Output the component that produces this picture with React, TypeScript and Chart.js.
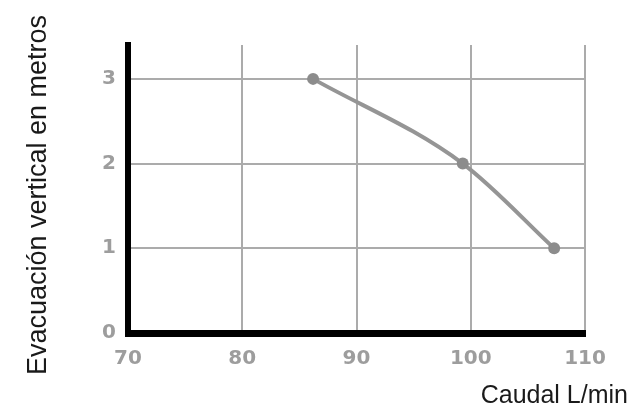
import React, { useEffect, useRef } from "react";
import { Chart, registerables } from "chart.js";

Chart.register(...registerables);

const flowLmin = [86.2, 99.3, 107.3];
const heightM = [3, 2, 1];
const xTitle = "Caudal L/min";
const yTitle = "Evacuación vertical en metros";

const tickFont = { family: '"DejaVu Sans", Verdana, sans-serif', size: 20, weight: "bold" as const };

const axisTitlesPlugin = {
  id: "axisTitlesPlugin",
  afterDraw(chart: any) {
    const ctx = chart.ctx;
    const area = chart.chartArea;
    ctx.save();
    ctx.fillStyle = "#1a1a1a";
    ctx.font = '25px "Liberation Sans"';
    ctx.textAlign = "right";
    ctx.textBaseline = "alphabetic";
    ctx.fillText(xTitle, chart.width - 10, area.bottom + 70);
    ctx.translate(46, (area.top + area.bottom) / 2 + 6);
    ctx.rotate(-Math.PI / 2);
    ctx.font = '27px "Liberation Sans"';
    ctx.textAlign = "center";
    ctx.fillText(yTitle, 0, 0);
    ctx.restore();
  },
};

export default function App() {
  const ref = useRef<HTMLCanvasElement | null>(null);

  useEffect(() => {
    if (!ref.current) return;
    const chart = new Chart(ref.current, {
      type: "line",
      data: {
        datasets: [
          {
            data: flowLmin.map((x, i) => ({ x, y: heightM[i] })),
            borderColor: "#959595",
            backgroundColor: "#8c8c8c",
            borderWidth: 4,
            pointRadius: 6,
            pointBorderWidth: 0,
            pointBackgroundColor: "#8c8c8c",
            cubicInterpolationMode: "monotone",
            fill: false,
          },
        ],
      },
      options: {
        animation: false,
        responsive: false,
        layout: { padding: { top: 45, right: 53, bottom: 0, left: 0 } },
        plugins: {
          legend: { display: false },
          tooltip: { enabled: false },
        },
        scales: {
          x: {
            type: "linear",
            min: 70,
            max: 110,
            afterFit(scale: any) {
              scale.height = 79;
            },
            ticks: {
              stepSize: 10,
              padding: 14,
              color: "#9d9d9d",
              font: tickFont,
            },
            grid: { color: "#ababab", lineWidth: 2, drawTicks: false },
            border: { color: "#000000", width: 7 },
          },
          y: {
            type: "linear",
            min: 0,
            max: 3.4,
            afterFit(scale: any) {
              scale.width = 128;
            },
            ticks: {
              stepSize: 1,
              includeBounds: false,
              padding: 12,
              color: "#9d9d9d",
              font: tickFont,
            },
            grid: { color: "#ababab", lineWidth: 2, drawTicks: false },
            border: { color: "#000000", width: 6 },
          },
        },
      },
      plugins: [axisTitlesPlugin],
    });
    return () => chart.destroy();
  }, []);

  return (
    <div style={{ position: "absolute", left: 0, top: 0, width: 638, height: 412, background: "#fff" }}>
      <canvas ref={ref} width={638} height={412} />
    </div>
  );
}
